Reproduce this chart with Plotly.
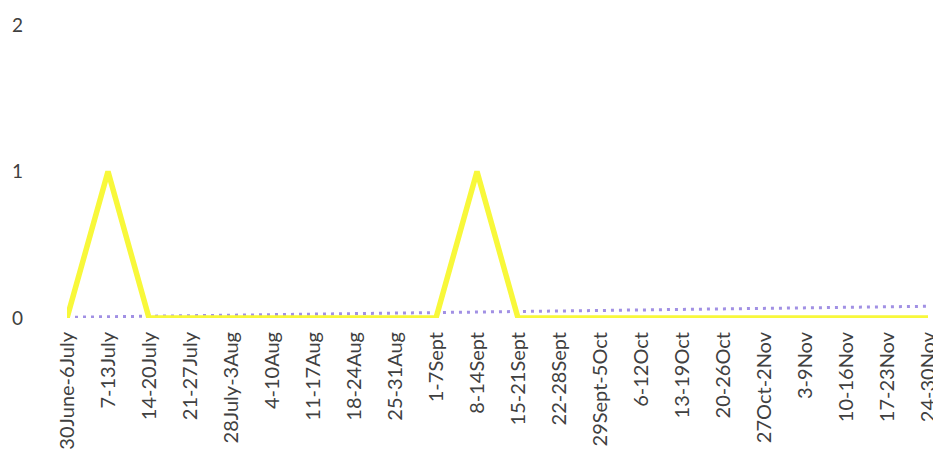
import plotly.graph_objects as go

categories = ["30June-6July", "7-13July", "14-20July", "21-27July", "28July-3Aug",
              "4-10Aug", "11-17Aug", "18-24Aug", "25-31Aug", "1-7Sept", "8-14Sept",
              "15-21Sept", "22-28Sept", "29Sept-5Oct", "6-12Oct", "13-19Oct",
              "20-26Oct", "27Oct-2Nov", "3-9Nov", "10-16Nov", "17-23Nov", "24-30Nov"]
counts = [0, 1, 0, 0, 0, 0, 0, 0, 0, 0, 1, 0, 0, 0, 0, 0, 0, 0, 0, 0, 0, 0]
trend_x = [categories[0], categories[-1]]
trend_y = [0.005, 0.08]
y_ticks = [0, 1, 2]

fig = go.Figure()
fig.add_trace(go.Scatter(x=trend_x, y=trend_y, mode="lines",
                         line=dict(color="#a190e4", width=3, dash="3px,5px"),
                         showlegend=False, hoverinfo="skip"))
fig.add_trace(go.Scatter(x=categories, y=counts, mode="lines",
                         line=dict(color="#f8f83a", width=5.5),
                         showlegend=False))

fig.update_layout(
    width=933, height=449,
    margin=dict(l=59, r=13, t=17, b=139),
    paper_bgcolor="white", plot_bgcolor="white",
    font=dict(family="Lato, Open Sans, sans-serif", color="#404040"),
    xaxis=dict(type="category", categoryorder="array", categoryarray=categories,
               range=[0, len(categories) - 1], tickangle=-90, automargin=False,
               showgrid=False, showline=False, zeroline=False,
               ticks="outside", ticklen=5, tickcolor="rgba(0,0,0,0)",
               tickfont=dict(size=20, color="#404040")),
    yaxis=dict(range=[0, 2], tickvals=y_ticks, showgrid=False, showline=False,
               zeroline=False, ticks="", ticklabelstandoff=43, automargin=False,
               tickfont=dict(size=19, color="#404040")),
)
fig.write_html("out.html")
